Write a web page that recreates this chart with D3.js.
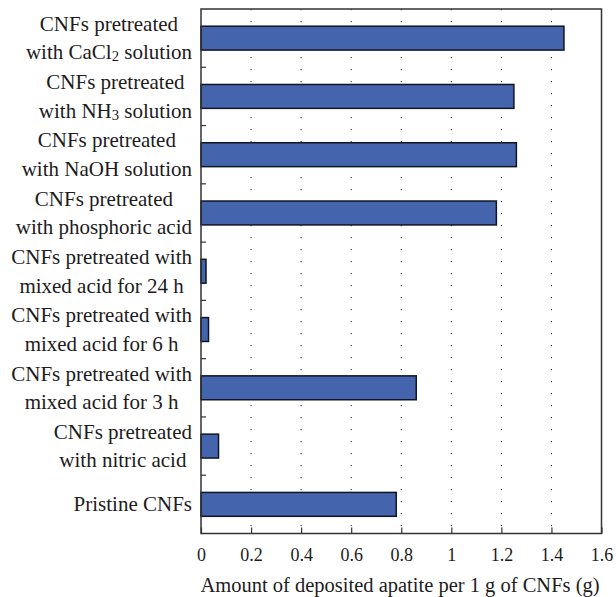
<!DOCTYPE html>
<html>
<head>
<meta charset="utf-8">
<script src="https://cdn.jsdelivr.net/npm/d3@7"></script>
<style>
  html, body { margin: 0; padding: 0; background: #fff; }
  svg { display: block; }
  svg text { font-family: "Liberation Serif", "DejaVu Serif", "Liberation Sans", sans-serif; fill: #1d1b1c; }
</style>
</head>
<body>
<svg id="chart" width="616" height="597"></svg>
<script>
// Category labels, top to bottom; each entry lists its text lines ("_x" marks a subscript digit)
const categoryLines = [
  ["CNFs pretreated", "with CaCl_2 solution"],
  ["CNFs pretreated", "with NH_3 solution"],
  ["CNFs pretreated", "with NaOH solution"],
  ["CNFs pretreated", "with phosphoric acid"],
  ["CNFs pretreated with", "mixed acid for 24 h"],
  ["CNFs pretreated with", "mixed acid for 6 h"],
  ["CNFs pretreated with", "mixed acid for 3 h"],
  ["CNFs pretreated", "with nitric acid"],
  ["Pristine CNFs"]
];
// Amount of deposited apatite per 1 g of CNFs (g)
const apatiteValues = [1.45, 1.25, 1.26, 1.18, 0.02, 0.03, 0.86, 0.07, 0.78];
const xTickValues = [0, 0.2, 0.4, 0.6, 0.8, 1, 1.2, 1.4, 1.6];
const xTickLabels = ["0", "0.2", "0.4", "0.6", "0.8", "1", "1.2", "1.4", "1.6"];
const xAxisTitle = "Amount of deposited apatite per 1 g of CNFs (g)";

const svg = d3.select("#chart");
const plot = { left: 201, right: 601.5, top: 9, bottom: 533.5 };

const ids = categoryLines.map((_, i) => i);
const x = d3.scaleLinear().domain([0, 1.6]).range([plot.left, plot.right]);
const y = d3.scaleBand().domain(ids).range([plot.top, plot.bottom]).paddingInner(0.59).paddingOuter(0.295);
const yBand = d3.scaleBand().domain(ids).range([plot.top, plot.bottom]);

// Dotted vertical grid
svg.append("g")
  .selectAll("line")
  .data(xTickValues.slice(1, -1))
  .join("line")
  .attr("x1", d => x(d)).attr("x2", d => x(d))
  .attr("y1", plot.top).attr("y2", plot.bottom)
  .attr("stroke", "#222")
  .attr("stroke-width", 1)
  .attr("stroke-dasharray", "1.2,10.8");

// Bars
svg.append("g")
  .selectAll("rect")
  .data(apatiteValues)
  .join("rect")
  .attr("x", x(0))
  .attr("y", (d, i) => y(i))
  .attr("width", d => x(d) - x(0))
  .attr("height", y.bandwidth())
  .attr("fill", "#4465ae")
  .attr("stroke", "#111522")
  .attr("stroke-width", 1.5);

// Bottom axis: inward ticks with labels below
const xAxis = d3.axisBottom(x)
  .tickValues(xTickValues)
  .tickFormat((d, i) => xTickLabels[i])
  .tickSizeInner(-6)
  .tickSizeOuter(0)
  .tickPadding(15);
const gx = svg.append("g").attr("transform", `translate(0,${plot.bottom})`).call(xAxis);
gx.attr("font-family", null).attr("font-size", 18);
gx.select(".domain").remove();
gx.selectAll(".tick line").attr("stroke", "#333").attr("stroke-width", 1.2);

// Left axis: inward ticks at band boundaries
const boundaries = ids.slice(1).map(i => yBand(i));
svg.append("g")
  .selectAll("line")
  .data(boundaries)
  .join("line")
  .attr("x1", plot.left).attr("x2", plot.left + 5)
  .attr("y1", d => d).attr("y2", d => d)
  .attr("stroke", "#333").attr("stroke-width", 1.2);

// Frame
svg.append("rect")
  .attr("x", plot.left).attr("y", plot.top)
  .attr("width", plot.right - plot.left).attr("height", plot.bottom - plot.top)
  .attr("fill", "none")
  .attr("stroke", "#333")
  .attr("stroke-width", 1.5);

// Category labels: right-aligned block, lines centred within it
const fontSize = 21, lineGap = 28.5, labelRight = 192;
function writeLine(textSel, str) {
  const parts = str.split(/(_\d)/);
  parts.forEach(p => {
    if (p.startsWith("_")) {
      textSel.append("tspan").text(p.slice(1))
        .attr("font-size", fontSize * 0.7)
        .attr("baseline-shift", "-24%");
    } else if (p.length) {
      textSel.append("tspan").text(p);
    }
  });
}
const labelGroup = svg.append("g").attr("font-size", fontSize);
categoryLines.forEach((lines, i) => {
  const cy = yBand(i) + yBand.bandwidth() / 2;
  const g = labelGroup.append("g");
  const texts = lines.map((line, k) => {
    const t = g.append("text")
      .attr("text-anchor", "middle")
      .attr("dominant-baseline", "central")
      .attr("y", cy + (k - (lines.length - 1) / 2) * lineGap);
    writeLine(t, line);
    return t;
  });
  const maxW = d3.max(texts, t => t.node().getComputedTextLength());
  texts.forEach(t => t.attr("x", labelRight - maxW / 2));
});

// Axis title
svg.append("text")
  .attr("x", 400)
  .attr("y", 585)
  .attr("text-anchor", "middle")
  .attr("dominant-baseline", "central")
  .attr("font-size", 20.5)
  .text(xAxisTitle);
</script>
</body>
</html>
